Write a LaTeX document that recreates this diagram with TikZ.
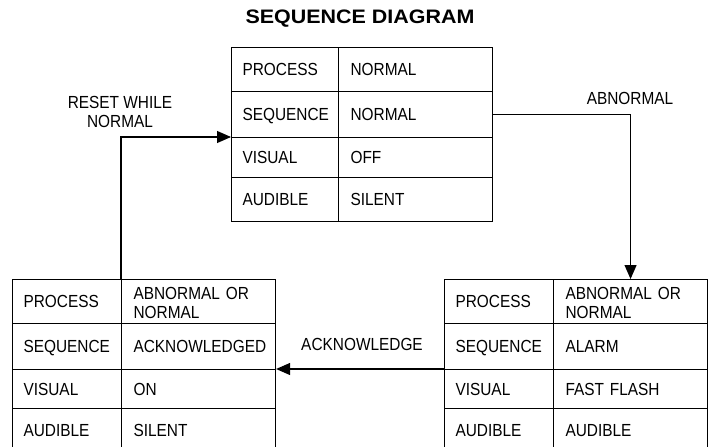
\documentclass[tikz,border=0pt]{standalone}
\usepackage{fontspec}
\usetikzlibrary{arrows.meta}
\setmainfont{Liberation Sans}[FakeStretch=0.88]
\newfontfamily\titlefont{Liberation Sans}[FakeStretch=1.1]
\newcommand{\cellstrut}{\rule[-3pt]{0pt}{18.5pt}}
\begin{document}
\begin{tikzpicture}[x=1pt,y=-1pt,
  every node/.style={font=\fontsize{17.5}{18.5}\selectfont},
  lcell/.style={draw, line width=1.1pt, anchor=north west, inner ysep=0pt, inner xsep=11pt,
     text width=#1-22pt, align=left, execute at begin node=\cellstrut},
  vcell/.style={draw, line width=1.1pt, anchor=north west, inner ysep=0pt, inner xsep=12pt,
     text width=#1-24pt, align=left, execute at begin node=\cellstrut},
  conn/.style={line width=1.1pt, -{Triangle[length=14pt,width=12pt]}},
  lbl/.style={align=center, inner sep=0pt}]
\useasboundingbox (0,0) rectangle (710,447);
\clip (0,0) rectangle (710,447);

\node[inner sep=0pt, font=\titlefont\bfseries\fontsize{19.5}{20}\selectfont] (title) at (360,19) {SEQUENCE DIAGRAM};

% top table
\node[lcell=107pt, minimum height=44pt] (tl1) at (231,47) {PROCESS};
\node[vcell=154pt, minimum height=44pt] (tv1) at (338,47) {NORMAL};
\node[lcell=107pt, minimum height=46pt] (tl2) at (231,91) {SEQUENCE};
\node[vcell=154pt, minimum height=46pt] (tv2) at (338,91) {NORMAL};
\node[lcell=107pt, minimum height=40pt] (tl3) at (231,137) {VISUAL};
\node[vcell=154pt, minimum height=40pt] (tv3) at (338,137) {OFF};
\node[lcell=107pt, minimum height=44pt] (tl4) at (231,177) {AUDIBLE};
\node[vcell=154pt, minimum height=44pt] (tv4) at (338,177) {SILENT};

% bottom-left table
\node[lcell=109pt, minimum height=44pt] (bll1) at (12,279) {PROCESS};
\node[vcell=154pt, minimum height=44pt] (blv1) at (121,279) {\mbox{ABNORMAL OR}\\NORMAL};
\node[lcell=109pt, minimum height=46pt] (bll2) at (12,323) {SEQUENCE};
\node[vcell=154pt, minimum height=46pt] (blv2) at (121,323) {ACKNOWLEDGED};
\node[lcell=109pt, minimum height=39pt] (bll3) at (12,369) {VISUAL};
\node[vcell=154pt, minimum height=39pt] (blv3) at (121,369) {ON};
\node[lcell=109pt, minimum height=44pt] (bll4) at (12,408) {AUDIBLE};
\node[vcell=154pt, minimum height=44pt] (blv4) at (121,408) {SILENT};

% bottom-right table
\node[lcell=109pt, minimum height=44pt] (brl1) at (444,279) {PROCESS};
\node[vcell=154pt, minimum height=44pt] (brv1) at (553,279) {\mbox{ABNORMAL OR}\\NORMAL};
\node[lcell=109pt, minimum height=46pt] (brl2) at (444,323) {SEQUENCE};
\node[vcell=154pt, minimum height=46pt] (brv2) at (553,323) {ALARM};
\node[lcell=109pt, minimum height=39pt] (brl3) at (444,369) {VISUAL};
\node[vcell=154pt, minimum height=39pt] (brv3) at (553,369) {FAST FLASH};
\node[lcell=109pt, minimum height=44pt] (brl4) at (444,408) {AUDIBLE};
\node[vcell=154pt, minimum height=44pt] (brv4) at (553,408) {AUDIBLE};

% connectors
\draw[conn] (tv2.east) -| (brv1.north);
\draw[conn] (blv1.north west) |- (tl3.north west);
\draw[conn] (brl3.north west) -- (blv3.north east);

% labels
\node[lbl] (labn) at (630,98) {ABNORMAL};
\node[lbl] (lreset) at (120,112) {RESET WHILE\\NORMAL};
\node[lbl] (lack) at (362,344) {ACKNOWLEDGE};
\end{tikzpicture}
\end{document}
